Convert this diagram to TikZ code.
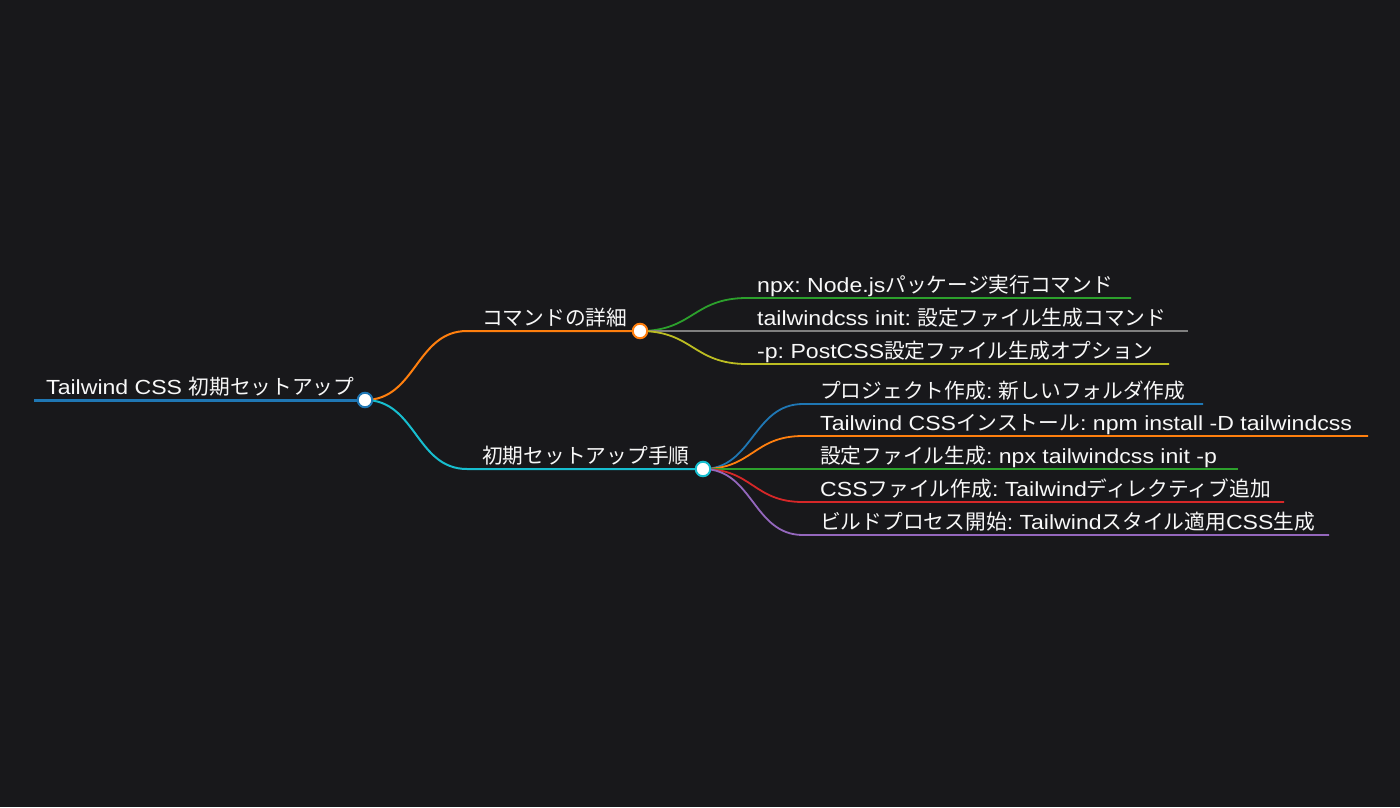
\documentclass[tikz,border=0pt]{standalone}
\usepackage{fontspec}
\usetikzlibrary{backgrounds}
\setmainfont{Liberation Sans}[FakeStretch=1.13]
\newfontfamily\jpfont{Noto Sans CJK JP}[Scale=1.015]
\XeTeXinterchartokenstate=1
\newXeTeXintercharclass\jpclass
\makeatletter
\count@="3000
\loop\ifnum\count@<"3100 \XeTeXcharclass\count@=\jpclass \advance\count@ by 1 \repeat
\count@="4E00
\loop\ifnum\count@<"A000 \XeTeXcharclass\count@=\jpclass \advance\count@ by 1 \repeat
\count@="FF00
\loop\ifnum\count@<"FFF0 \XeTeXcharclass\count@=\jpclass \advance\count@ by 1 \repeat
\makeatother
\XeTeXinterchartoks 0 \jpclass = {\jpfont}
\XeTeXinterchartoks 4095 \jpclass = {\jpfont}
\XeTeXinterchartoks \jpclass 0 = {\rmfamily}
\XeTeXinterchartoks \jpclass 4095 = {\rmfamily}
\frenchspacing
\definecolor{bg}{HTML}{18181B}
\definecolor{cblue}{HTML}{1F77B4}
\definecolor{corange}{HTML}{FF7F0E}
\definecolor{cgreen}{HTML}{2CA02C}
\definecolor{cred}{HTML}{D62728}
\definecolor{cpurple}{HTML}{9467BD}
\definecolor{cgray}{HTML}{7F7F7F}
\definecolor{colive}{HTML}{BCBD22}
\definecolor{ccyan}{HTML}{17BECF}
\definecolor{txt}{HTML}{F8F8F8}
\begin{document}
\frenchspacing
\begin{tikzpicture}[x=1bp,y=-1bp,
  lbl/.style={anchor=base west,inner sep=0pt,text=txt,font=\fontsize{20.5}{24}\selectfont\frenchspacing},
  dot/.style={circle,fill=white,line width=2bp,minimum size=14.5bp,inner sep=0pt},
  rootline/.style={line width=3bp},
  brline/.style={line width=2bp},
  chline/.style={line width=1.8bp}]
\useasboundingbox (0,0) rectangle (1400,807);
% root
\coordinate (r0) at (34,400);
\node[dot,draw=cblue] (r) at (365,400) {};
\node[lbl] (rt) at (46,394) {Tailwind CSS 初期セットアップ};
% branch A
\coordinate (a0) at (467,331);
\node[dot,draw=corange] (a) at (640,331) {};
\node[lbl] (at) at (482,325) {コマンドの詳細};
% branch B
\coordinate (b0) at (467,469);
\node[dot,draw=ccyan] (b) at (703,469) {};
\node[lbl] (bt) at (482,463) {初期セットアップ手順};
% children A
\coordinate (a1s) at (747,298); \coordinate (a1e) at (1131,298);
\coordinate (a2s) at (747,331); \coordinate (a2e) at (1188,331);
\coordinate (a3s) at (747,364); \coordinate (a3e) at (1169,364);
\node[lbl] (a1t) at (757,292) {npx: Node.jsパッケージ実行コマンド};
\node[lbl] (a2t) at (757,325) {tailwindcss init: 設定ファイル生成コマンド};
\node[lbl] (a3t) at (757,358) {-p: PostCSS設定ファイル生成オプション};
% children B
\coordinate (b1s) at (803,404); \coordinate (b1e) at (1203,404);
\coordinate (b2s) at (803,436); \coordinate (b2e) at (1368,436);
\coordinate (b3s) at (803,469); \coordinate (b3e) at (1238,469);
\coordinate (b4s) at (803,502); \coordinate (b4e) at (1284,502);
\coordinate (b5s) at (803,535); \coordinate (b5e) at (1329,535);
\node[lbl] (b1t) at (820,398) {プロジェクト作成: 新しいフォルダ作成};
\node[lbl] (b2t) at (820,430) {Tailwind CSSインストール: npm install -D tailwindcss};
\node[lbl] (b3t) at (820,463) {設定ファイル生成: npx tailwindcss init -p};
\node[lbl] (b4t) at (820,496) {CSSファイル作成: Tailwindディレクティブ追加};
\node[lbl] (b5t) at (820,529) {ビルドプロセス開始: Tailwindスタイル適用CSS生成};
% connectors
\begin{scope}[on background layer]
\fill[bg] (0,0) rectangle (1400,807);
\draw[cblue,rootline] (r0) -- (r.center);
\draw[corange,brline] (r.center) .. controls (416,400) and (416,331) .. (a0) -- (a.center);
\draw[ccyan,brline] (r.center) .. controls (416,400) and (416,469) .. (b0) -- (b.center);
\draw[cgreen,chline] (a.center) .. controls (693,331) and (693,298) .. (a1s) -- (a1e);
\draw[cgray,chline] (a.center) -- (a2s) -- (a2e);
\draw[colive,chline] (a.center) .. controls (693,331) and (693,364) .. (a3s) -- (a3e);
\draw[cblue,chline] (b.center) .. controls (753,469) and (753,404) .. (b1s) -- (b1e);
\draw[corange,chline] (b.center) .. controls (753,469) and (753,436) .. (b2s) -- (b2e);
\draw[cgreen,chline] (b.center) -- (b3s) -- (b3e);
\draw[cred,chline] (b.center) .. controls (753,469) and (753,502) .. (b4s) -- (b4e);
\draw[cpurple,chline] (b.center) .. controls (753,469) and (753,535) .. (b5s) -- (b5e);
\end{scope}
\end{tikzpicture}
\end{document}
